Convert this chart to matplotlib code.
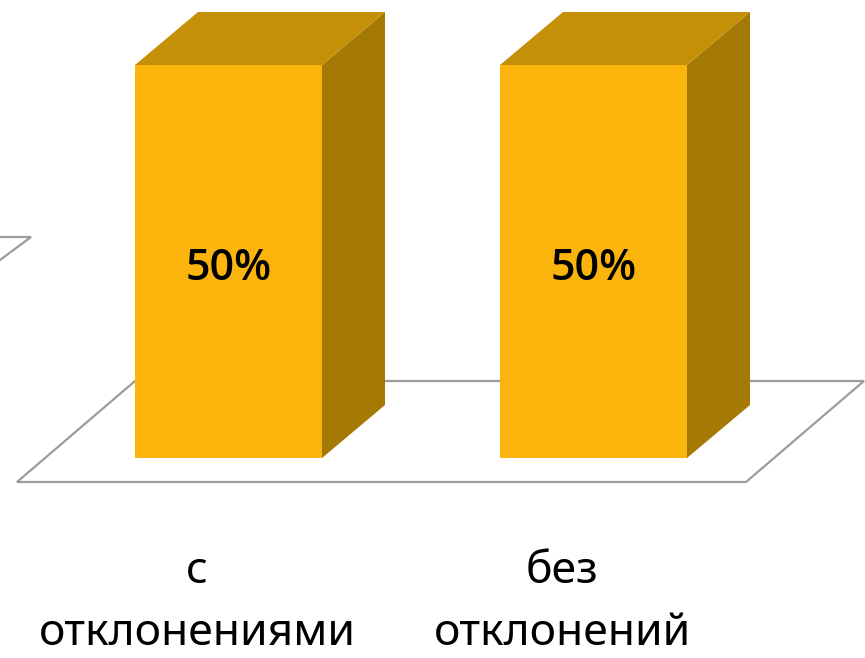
import matplotlib
matplotlib.use("Agg")
import matplotlib.pyplot as plt
from matplotlib.patches import Polygon

# chart data
categories = [("с", "отклонениями"), ("без", "отклонений")]
values = [50, 50]
value_labels = ["50%", "50%"]

# layout (pixels of the 865x658 canvas)
W, H = 865, 658
BASE_PX = 458          # pixel row of the front bottom edge of the bars
SCALE = 393 / 50       # pixels per percent
BAR_LEFT0 = 135
BAR_STEP = 365
BAR_W = 187
DEPTH_X = 63
DEPTH_Y = 53 / SCALE

FRONT = "#FBB40C"
TOP = "#C58F07"
SIDE = "#A47A04"
EDGE = "#9C9C9C"
FONT = "Noto Sans"


def py(p):
    """pixel row -> value units"""
    return (BASE_PX - p) / SCALE


fig = plt.figure(figsize=(W / 100, H / 100), dpi=100)
ax = fig.add_axes([0, 0, 1, 1])
ax.set_xlim(0, W)
ax.set_ylim(py(H), py(0))
ax.axis("off")

# floor plane
floor_front = py(482)
floor_back = py(381)
floor = Polygon([(17, floor_front), (746, floor_front),
                 (864, floor_back), (135, floor_back)],
                closed=True, facecolor="white", edgecolor=EDGE, lw=1.6,
                joinstyle="miter")
ax.add_patch(floor)

# top edge of the side wall at the left
ax.plot([0, 31, 0], [py(237), py(237), py(260)], color=EDGE, lw=1.6,
        solid_joinstyle="miter")

# 3D bars
for i, (v, lab) in enumerate(zip(values, value_labels)):
    x0 = BAR_LEFT0 + i * BAR_STEP
    x1 = x0 + BAR_W
    side = Polygon([(x1, 0), (x1 + DEPTH_X, DEPTH_Y),
                    (x1 + DEPTH_X, v + DEPTH_Y), (x1, v)],
                   closed=True, facecolor=SIDE, edgecolor="none")
    top = Polygon([(x0, v), (x1, v), (x1 + DEPTH_X, v + DEPTH_Y),
                   (x0 + DEPTH_X, v + DEPTH_Y)],
                  closed=True, facecolor=TOP, edgecolor="none")
    front = Polygon([(x0, 0), (x1, 0), (x1, v), (x0, v)],
                    closed=True, facecolor=FRONT, edgecolor="none")
    for p in (side, top, front):
        ax.add_patch(p)
    ax.text((x0 + x1) / 2, py(280), lab, ha="center", va="baseline",
            fontsize=31, fontweight="semibold", family="Open Sans",
            color="black")

# category labels
for i, (line1, line2) in enumerate(categories):
    cx = 197 + i * BAR_STEP
    ax.text(cx, py(583), line1, ha="center", va="baseline",
            fontsize=32, family=FONT, color="black")
    ax.text(cx, py(645), line2, ha="center", va="baseline",
            fontsize=32, family=FONT, color="black")

fig.savefig("out.png", dpi=100)
